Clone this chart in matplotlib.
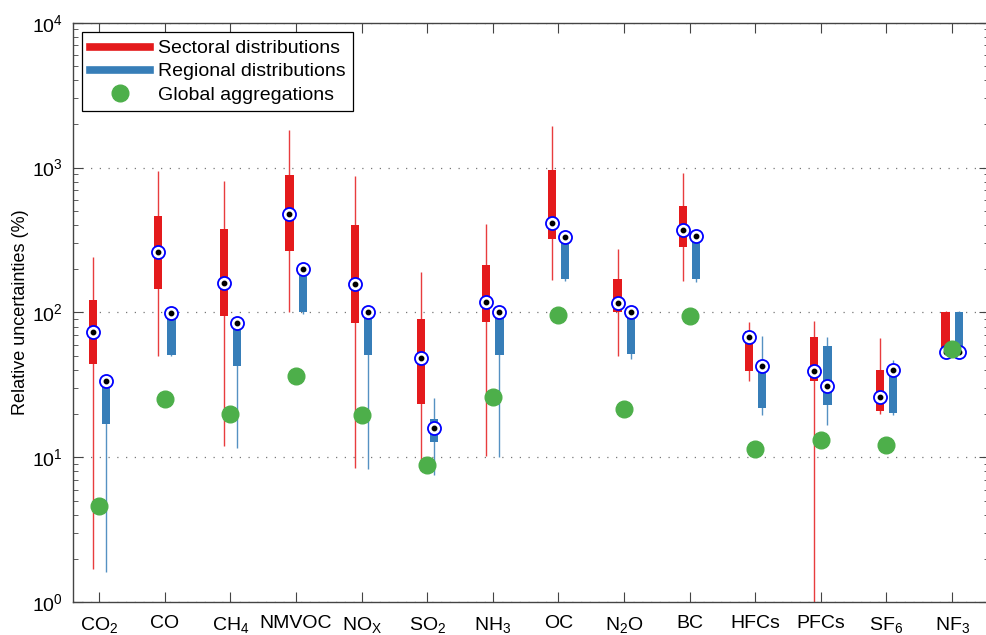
import numpy as np
import matplotlib
matplotlib.use("Agg")
import matplotlib.pyplot as plt
from matplotlib.lines import Line2D

plt.rcParams["font.family"] = ["Liberation Sans", "DejaVu Sans"]
plt.rcParams["mathtext.fontset"] = "custom"
plt.rcParams["mathtext.rm"] = "Liberation Sans"
plt.rcParams["mathtext.it"] = "Liberation Sans:italic"
plt.rcParams["mathtext.bf"] = "Liberation Sans:bold"

species = ["CO$_2$", "CO", "CH$_4$", "NMVOC", r"NO$_\mathrm{X}$", "SO$_2$", "NH$_3$",
           "OC", "N$_2$O", "BC", "HFCs", "PFCs", "SF$_6$", "NF$_3$"]

# sectoral distributions: whisker low, lower quartile, median, upper quartile, whisker high (%)
sec_lo = [1.7, 50, 12, 100, 8.45, 8.0, 10.2, 168, 50, 165, 33.5, 0.5, 19.8, 53]
sec_q1 = [44, 145, 94, 267, 84, 23.4, 85.7, 321, 100.5, 284, 39.3, 33.9, 20.8, 53]
sec_med = [73.6, 260, 160, 481, 156, 48.3, 119, 412, 117, 369, 68, 39.3, 26, 53]
sec_q3 = [122, 463, 379, 889, 399, 90, 214, 961, 169, 540, 74.8, 67.5, 40.4, 101]
sec_hi = [241, 942, 803, 1820, 875, 189, 405, 1940, 274, 923, 85.3, 86.7, 66.4, 102]

# regional distributions
reg_lo = [1.63, 50, 11.7, 98, 8.3, 7.6, 10, 165, 47.9, 163, 19.7, 16.6, 19.7, 53]
reg_q1 = [17.1, 50.7, 43, 101, 50.5, 12.7, 50.5, 169, 51.8, 170, 22, 22.9, 20.1, 53]
reg_med = [33.7, 99.5, 84, 199, 100, 16, 100, 334, 100, 335, 42.9, 31, 39.8, 53]
reg_q3 = [34, 100, 85, 200, 100, 18.4, 100, 335, 100, 336, 43, 58.5, 40, 101]
reg_hi = [34, 100, 85, 200, 100, 25.5, 100, 335, 100, 336, 69.3, 68, 47.3, 102]

# global aggregations
glob = [4.6, 25.2, 20, 36.7, 19.7, 8.8, 26, 96.4, 21.6, 94, 11.5, 13.1, 12.2, 56.2]

RED = "#E41A1C"
BLUE = "#377EB8"
GREEN = "#4DAF4A"
AXC = "#444444"

x = np.arange(len(species))
off = 0.1
bw = 0.125

fig = plt.figure(figsize=(9.86, 6.35), dpi=100)
ax = fig.add_axes([0.0737, 0.0515, 0.9295, 0.9128])
ax.set_yscale("log")
ax.set_ylim(1, 1e4)
ax.set_xlim(-0.405, 13.565)

ax.yaxis.grid(True, which="major", linestyle=(0, (1, 6)), color="#777777", lw=0.9)
ax.set_axisbelow(True)


def draw_group(xs, lo, q1, med, q3, hi, color):
    q1 = np.array(q1)
    q3 = np.array(q3)
    ax.vlines(xs, lo, hi, color=color, lw=1.0, alpha=0.85, zorder=2)
    ax.bar(xs, q3 - q1, bottom=q1, width=bw, color=color, zorder=3)
    ax.plot(xs, med, "o", ms=9.4, mfc="white", mec="#0000FF", mew=1.3,
            ls="none", zorder=4)
    ax.plot(xs, med, "o", ms=3.2, color="black", ls="none", zorder=5)


draw_group(x - off, sec_lo, sec_q1, sec_med, sec_q3, sec_hi, RED)
draw_group(x + off, reg_lo, reg_q1, reg_med, reg_q3, reg_hi, BLUE)
ax.plot(x, glob, "o", ms=12, color=GREEN, ls="none", zorder=6)

ax.set_xticks(x)
ax.set_xticklabels(species, fontsize=14)
ax.set_ylabel("Relative uncertainties (%)", fontsize=13, labelpad=2)

for s in ax.spines.values():
    s.set_color(AXC)
    s.set_linewidth(1.0)
ax.tick_params(axis="both", which="both", direction="in", top=True, right=True,
               color=AXC)
ax.tick_params(axis="x", which="major", length=7, pad=9)
ax.tick_params(axis="y", which="major", length=7, labelsize=14, pad=7)
ax.tick_params(axis="y", which="minor", length=3.6)
ax.tick_params(axis="x", which="minor", bottom=False, top=False)

handles = [
    Line2D([], [], color=RED, lw=5.5),
    Line2D([], [], color=BLUE, lw=5.5),
    Line2D([], [], color=GREEN, marker="o", ms=12, ls="none"),
]
labels = ["Sectoral distributions", "Regional distributions", "Global aggregations"]
leg = ax.legend(handles, labels, loc="upper left", fontsize=14, frameon=True,
                fancybox=False, framealpha=1, edgecolor="black",
                handlelength=3.1, handletextpad=0.42, labelspacing=0.28,
                borderpad=0.38, borderaxespad=0.5, numpoints=1)
leg.get_frame().set_linewidth(0.9)

fig.savefig("out.png", dpi=100)
